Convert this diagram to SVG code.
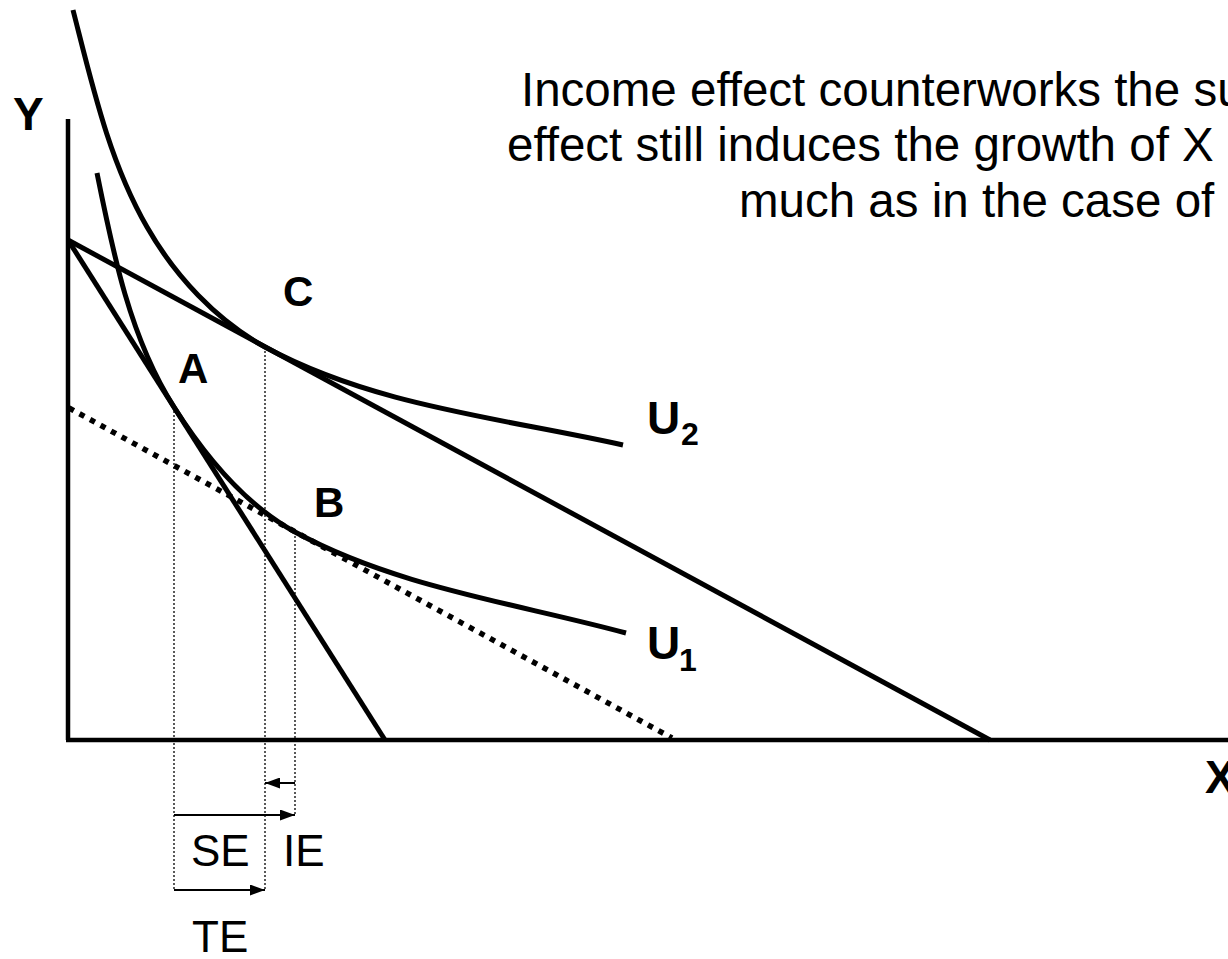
<svg xmlns="http://www.w3.org/2000/svg" width="1228" height="959" viewBox="0 0 1228 959">
<defs>
<style>
.thick{fill:none;stroke:#000;stroke-width:5;stroke-linecap:butt}
.axis{fill:none;stroke:#000;stroke-width:4.5}
.comp{fill:none;stroke:#000;stroke-width:5.5;stroke-dasharray:5.5 6.5}
.guide{fill:none;stroke:#000;stroke-width:1.3;stroke-dasharray:2 2}
.arr{fill:none;stroke:#000;stroke-width:2}
.lbl{font-family:"Liberation Sans",Arial,sans-serif;font-weight:bold;font-size:42px;fill:#000}
.big{font-family:"Liberation Sans",Arial,sans-serif;font-weight:bold;font-size:46px;fill:#000}
.sub{font-family:"Liberation Sans",Arial,sans-serif;font-weight:bold;font-size:32px;fill:#000}
.txt{font-family:"Liberation Sans",Arial,sans-serif;font-size:47.5px;fill:#000}
.eff{font-family:"Liberation Sans",Arial,sans-serif;font-size:44px;fill:#000}
</style>
<marker id="ah" markerWidth="15" markerHeight="11" refX="15" refY="5.5" orient="auto" markerUnits="userSpaceOnUse">
<path d="M0,0 L15,5.5 L0,11 Z" fill="#000"/>
</marker>
</defs>
<rect width="1228" height="959" fill="#fff"/>
<g id="axes">
<line class="axis" x1="68" y1="119" x2="68" y2="740"/>
<line class="axis" x1="66" y1="740" x2="1228" y2="740"/>
<text class="big" x="13" y="130">Y</text>
<text class="big" x="1205" y="793">X</text>
</g>
<g id="connectors">
<line id="budget1" class="thick" x1="68" y1="240" x2="385" y2="740"/>
<line id="budget2" class="thick" x1="68" y1="240" x2="990" y2="740"/>
<line id="budget-comp" class="comp" x1="69" y1="408" x2="672" y2="738"/>
<path id="U1" class="thick" d="M97,173 C113,253 130,338 174,407 C205,456 244,504 295,532 C396,587 515,603 626,633"/>
<path id="U2" class="thick" d="M73,10 C92,84 109,161 147,227 C175,276 216,320 265,347 C374,406 502,418 623,445"/>
<line class="guide" x1="174" y1="407" x2="174" y2="890"/>
<line class="guide" x1="265" y1="347" x2="265" y2="890"/>
<line class="guide" x1="295" y1="532" x2="295" y2="815"/>
<line id="IE-arrow" class="arr" x1="295" y1="783" x2="265" y2="783" marker-end="url(#ah)"/>
<line id="SE-arrow" class="arr" x1="174" y1="815" x2="295" y2="815" marker-end="url(#ah)"/>
<line id="TE-arrow" class="arr" x1="174" y1="890" x2="265" y2="890" marker-end="url(#ah)"/>
</g>
<g id="point-A"><text class="lbl" x="178" y="383">A</text></g>
<g id="point-B"><text class="lbl" x="314" y="517">B</text></g>
<g id="point-C"><text class="lbl" x="283" y="306">C</text></g>
<g id="label-U2"><text class="big" x="647" y="434">U</text><text class="sub" x="681" y="445">2</text></g>
<g id="label-U1"><text class="big" x="647" y="659">U</text><text class="sub" x="679" y="671">1</text></g>
<g id="effects">
<text class="eff" x="191" y="866">SE</text>
<text class="eff" x="283" y="866">IE</text>
<text class="eff" x="192" y="952">TE</text>
</g>
<g id="caption">
<text class="txt" x="521" y="106">Income effect counterworks the su</text>
<text class="txt" x="507" y="161">effect still induces the growth of X</text>
<text class="txt" x="739" y="217">much as in the case of</text>
</g>
</svg>
